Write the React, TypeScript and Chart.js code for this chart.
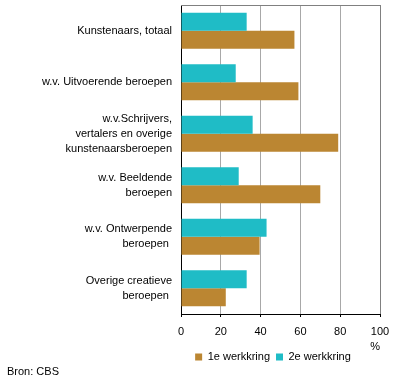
import React, { useEffect, useRef } from "react";
import { Chart, registerables } from "chart.js";

Chart.register(...registerables);

const categories: string[][] = [
  ["Kunstenaars, totaal"],
  ["w.v. Uitvoerende beroepen"],
  ["w.v.Schrijvers,", "vertalers en overige", "kunstenaarsberoepen"],
  ["w.v. Beeldende", "beroepen"],
  ["w.v. Ontwerpende", "beroepen "],
  ["Overige creatieve", "beroepen "],
];
const firstJob = [57, 59, 79, 70, 39.5, 22.5];
const secondJob = [33, 27.5, 36, 29, 43, 33];
const seriesLabels = ["1e werkkring", "2e werkkring"];
const xMin = 0;
const xMax = 100;
const xStep = 20;
const axisUnit = "%";
const sourceText = "Bron: CBS";

const BROWN = "rgb(187,134,50)";
const TEAL = "rgb(31,188,198)";

export default function App() {
  const ref = useRef<HTMLCanvasElement>(null);

  useEffect(() => {
    if (!ref.current) return;
    const font = { family: "'Liberation Sans', Arial, sans-serif", size: 11, weight: "normal" as const };

    const topBorder = {
      id: "topBorder",
      afterDraw(chart: any) {
        const { ctx, chartArea } = chart;
        ctx.save();
        ctx.strokeStyle = "#808080";
        ctx.lineWidth = 1;
        ctx.beginPath();
        ctx.moveTo(chartArea.left, Math.round(chartArea.top) + 0.5);
        ctx.lineTo(chartArea.right + 0.5, Math.round(chartArea.top) + 0.5);
        ctx.stroke();
        ctx.restore();
      },
    };

    const legendShift = {
      id: "legendShift",
      afterLayout(chart: any) {
        const l = chart.legend;
        if (l) {
          l.left -= 7.5;
          l.right -= 7.5;
        }
      },
    };

    const chart = new Chart(ref.current, {
      type: "bar",
      data: {
        labels: categories as any,
        datasets: [
          {
            label: seriesLabels[1],
            data: secondJob,
            backgroundColor: TEAL,
            categoryPercentage: 0.7,
            barPercentage: 1,
          },
          {
            label: seriesLabels[0],
            data: firstJob,
            backgroundColor: BROWN,
            categoryPercentage: 0.7,
            barPercentage: 1,
          },
        ],
      },
      options: {
        indexAxis: "y",
        responsive: false,
        animation: false,
        layout: { padding: { left: 7, right: 16, top: 5, bottom: 7.5 } },
        scales: {
          x: {
            min: xMin,
            max: xMax,
            ticks: { stepSize: xStep, color: "#000", font, padding: 8 },
            grid: {
              color: (c: any) => (c.tick && c.tick.value === xMax ? "#808080" : "#a8a8a8"),
              tickColor: "#000",
              tickLength: 3,
            },
            border: { color: "#000" },
            title: {
              display: true,
              text: axisUnit,
              align: "end",
              color: "#000",
              font,
              padding: { top: 0, bottom: -8 },
            },
            afterFit(s: any) {
              s.paddingLeft = 0;
              s.paddingRight = 0;
              s.height = 31.5;
            },
          },
          y: {
            ticks: { color: "#000", font: { ...font, lineHeight: 15 / 11 }, padding: 9 },
            grid: { display: false, drawTicks: false },
            border: { color: "#000" },
            afterFit(s: any) {
              s.width = 174;
              s.paddingTop = 0;
              s.paddingBottom = 0;
            },
          },
        },
        plugins: {
          legend: {
            position: "bottom",
            reverse: true,
            fullSize: false,
            labels: { boxWidth: 7, boxHeight: 7, padding: 6, color: "#000", font },
          },
          title: {
            display: true,
            text: sourceText,
            position: "bottom",
            align: "start",
            color: "#000",
            font: { ...font, lineHeight: 15 / 11 },
            padding: { top: -8, bottom: 0 },
          },
          tooltip: { enabled: false },
        },
      } as any,
      plugins: [topBorder, legendShift],
    });
    return () => chart.destroy();
  }, []);

  return (
    <div style={{ position: "absolute", left: 0, top: 0, width: 396, height: 387, background: "#fff" }}>
      <canvas ref={ref} width={396} height={387} />
    </div>
  );
}
